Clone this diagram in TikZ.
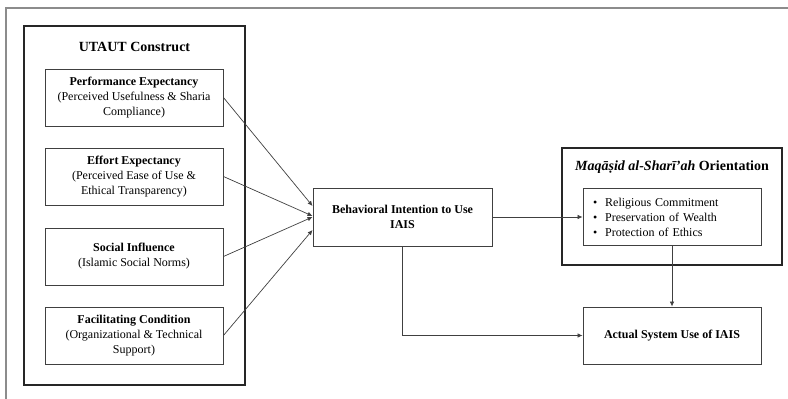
\documentclass[tikz,border=0pt]{standalone}
\usepackage{fontspec}
\setmainfont{Liberation Serif}
\usetikzlibrary{positioning,arrows.meta,calc}

\tikzset{
  groupbox/.style={draw=black!85,line width=1.3pt,minimum width=#1},
  itembox/.style={draw=black!75,line width=0.9pt,align=center,minimum width=178pt,minimum height=57pt,font=\fontsize{12}{15}\selectfont},
  link/.style={draw=black!75,line width=0.7pt,-{Latex[length=5pt,width=4.5pt]}}
}

\begin{document}
\begin{tikzpicture}[x=1pt,y=-1pt]
\useasboundingbox (0,0) rectangle (788,399);
% frame of the page
\draw[black!45,line width=1.2pt] (6,399) -- (6,8) -- (788,8);

% UTAUT side
\node[groupbox=221pt,minimum height=359pt] (utaut) at (134.5,205.5) {};
\node[font=\fontsize{14}{16}\selectfont\bfseries] (utauttitle) at (134.5,47) {UTAUT Construct};

\node[itembox,minimum width=179pt,minimum height=58pt] (behav) at (402.5,217) {\textbf{Behavioral Intention to Use}\\\textbf{IAIS}};

\foreach \y/\n/\s/\t in {97.5/perf/11/{\textbf{Performance Expectancy}\\(Perceived Usefulness \& Sharia\\Compliance)},
  176.5/effort/1/{\textbf{Effort Expectancy}\\(Perceived Ease of Use \&\\Ethical Transparency)},
  256.5/social/0/{\textbf{Social Influence}\\(Islamic Social Norms)},
  335.5/facil/-13/{\textbf{Facilitating Condition}\\(Organizational \& Technical\\Support)}} {
  \node[itembox] (\n) at (134,\y) {\t};
  \draw[link] (\n.east) -- ([yshift=\s pt]behav.west);
}

% Maqasid side
\node[groupbox=220pt,minimum height=117pt] (maq) at (672,206.5) {};
\node[font=\fontsize{14}{16}\selectfont\bfseries] (maqtitle) at (672,167) {\textit{Maqāṣid al-Sharī'ah} Orientation};
\node[itembox,align=left,text width=158pt,inner xsep=10pt] (pillars) at (672,217) {\textbullet\hspace{8pt}Religious Commitment\\\textbullet\hspace{8pt}Preservation of Wealth\\\textbullet\hspace{8pt}Protection of Ethics};
\node[itembox] (actual) at (672,335.5) {\textbf{Actual System Use of IAIS}};

\draw[link] (behav.east) -- (pillars.west);
\draw[link] (pillars.south) -- (actual.north);
\draw[link] (behav.south) |- (actual.west);
\end{tikzpicture}
\end{document}
